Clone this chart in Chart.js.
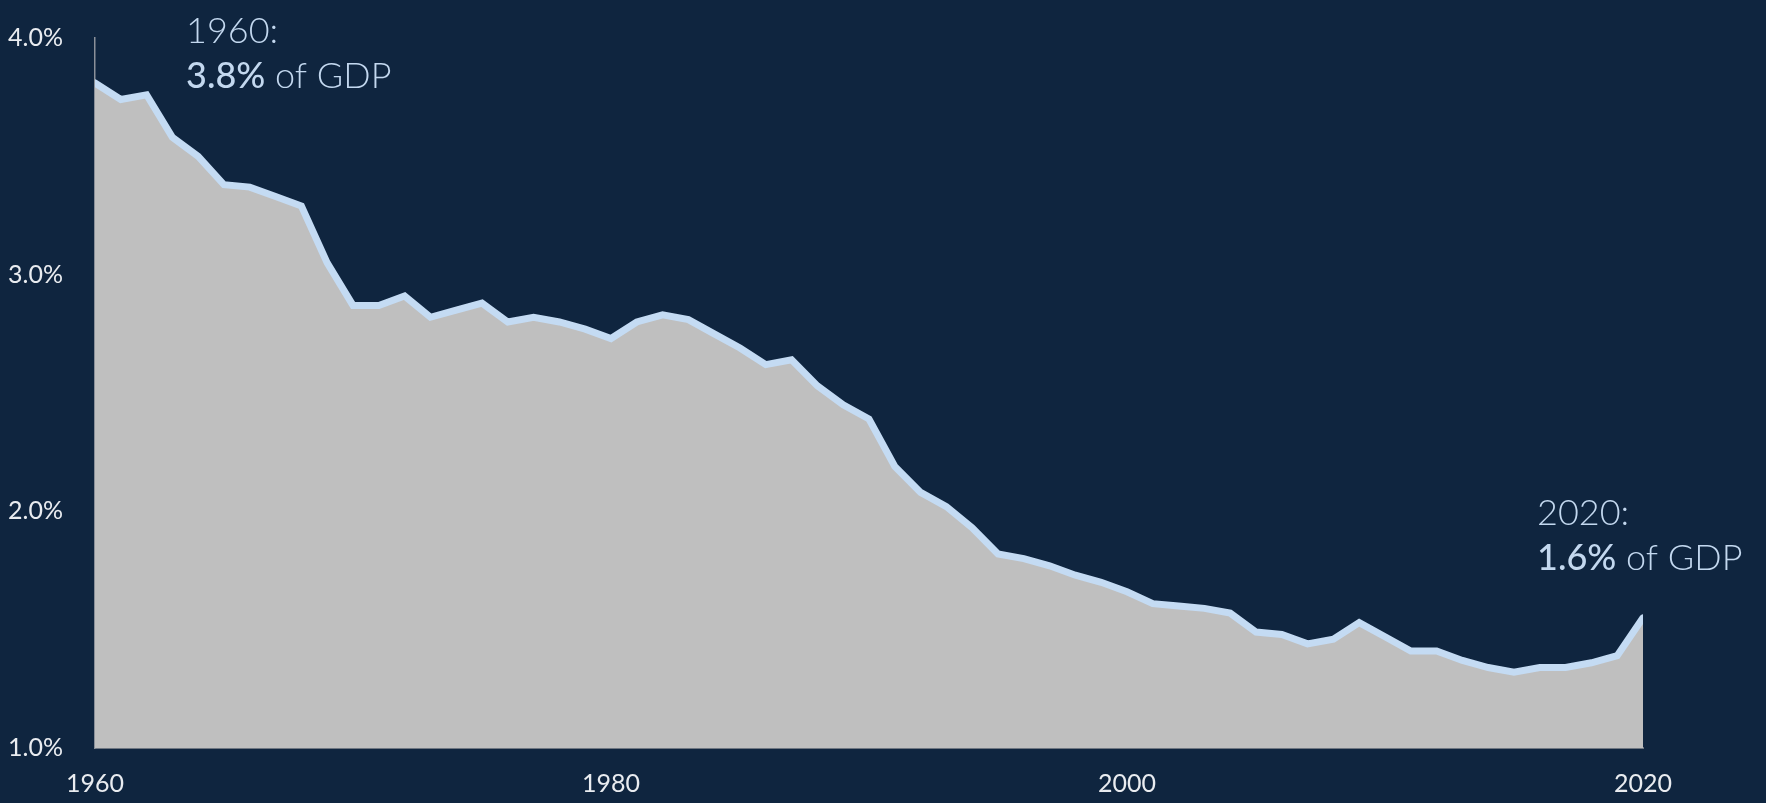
<!DOCTYPE html>
<html>
<head>
<meta charset="utf-8">
<script src="https://cdn.jsdelivr.net/npm/chart.js@4"></script>
<style>
  html, body { margin: 0; padding: 0; background: #0f253f; }
  canvas { display: block; }
</style>
</head>
<body>
<canvas id="gdp_chart" width="1766" height="803"></canvas>
<script>
const years = [
  1960, 1961, 1962, 1963, 1964, 1965, 1966, 1967, 1968, 1969,
  1970, 1971, 1972, 1973, 1974, 1975, 1976, 1977, 1978, 1979,
  1980, 1981, 1982, 1983, 1984, 1985, 1986, 1987, 1988, 1989,
  1990, 1991, 1992, 1993, 1994, 1995, 1996, 1997, 1998, 1999,
  2000, 2001, 2002, 2003, 2004, 2005, 2006, 2007, 2008, 2009,
  2010, 2011, 2012, 2013, 2014, 2015, 2016, 2017, 2018, 2019,
  2020
];
const share_of_gdp = [
  3.81, 3.74, 3.76, 3.58, 3.50, 3.38, 3.37, 3.33, 3.29, 3.05,
  2.87, 2.87, 2.91, 2.82, 2.85, 2.88, 2.80, 2.82, 2.80, 2.77,
  2.73, 2.80, 2.83, 2.81, 2.75, 2.69, 2.62, 2.64, 2.53, 2.45,
  2.39, 2.19, 2.08, 2.02, 1.93, 1.82, 1.80, 1.77, 1.73, 1.70,
  1.66, 1.61, 1.60, 1.59, 1.57, 1.49, 1.48, 1.44, 1.46, 1.53,
  1.47, 1.41, 1.41, 1.37, 1.34, 1.32, 1.34, 1.34, 1.36, 1.39,
  1.55
];
const y_ticks = [1, 2, 3, 4];
const x_ticks = [1960, 1980, 2000, 2020];

const gdp_ctx = document.getElementById("gdp_chart");

const points = [];
years.forEach((y, i) => {
  points.push({ x: y, y: share_of_gdp[i] });
});

// the two call-out texts, anchored to the first and last data point
const callouts = {
  id: 'callouts',
  afterDraw(chart) {
    const ctx = chart.ctx;
    const xs = chart.scales.x;
    const first = points[0];
    const last = points[points.length - 1];
    const items = [
      { head: first.x + ':', val: first.y.toFixed(1) + '%', left: xs.getPixelForValue(first.x) + 91, base: 43 },
      { head: last.x + ':', val: '1.6%', left: xs.getPixelForValue(last.x) - 106, base: 525 }
    ];
    ctx.save();
    ctx.fillStyle = '#c3d8ef';
    ctx.textBaseline = 'alphabetic';
    ctx.textAlign = 'left';
    items.forEach(it => {
      ctx.font = '300 36px Lato';
      ctx.fillText(it.head, it.left, it.base);
      ctx.font = '500 36px Lato';
      ctx.fillText(it.val, it.left, it.base + 45);
      const w = ctx.measureText(it.val).width;
      ctx.font = '300 36px Lato';
      ctx.fillText(' of GDP', it.left + w, it.base + 45);
    });
    ctx.restore();
  }
};

const gdp_config = {
  type: 'line',
  data: {
    datasets: [{
      data: points,
      borderColor: '#c4dbf3',
      borderWidth: 7,
      borderCapStyle: 'round',
      backgroundColor: '#bfbfbf',
      fill: 'start',
      pointRadius: 0,
      tension: 0
    }]
  },
  options: {
    responsive: false,
    animation: false,
    layout: {
      padding: { top: 38, right: 123, left: 8, bottom: 0 }
    },
    plugins: {
      legend: { display: false },
      tooltip: { enabled: false }
    },
    scales: {
      x: {
        type: 'linear',
        min: 1960,
        max: 2020,
        z: 1,
        afterFit: s => { s.height = 55; },
        afterBuildTicks: s => { s.ticks = x_ticks.map(v => ({ value: v })); },
        grid: { display: false, drawTicks: false },
        border: { display: true, color: '#6e7681', width: 2 },
        ticks: {
          padding: 21,
          color: '#e9ecf0',
          font: { family: 'Lato', size: 25, weight: '400' },
          maxRotation: 0,
          callback: v => String(v)
        }
      },
      y: {
        min: 1,
        max: 4,
        z: 1,
        afterFit: s => { s.width = 87; },
        afterBuildTicks: s => { s.ticks = y_ticks.map(v => ({ value: v })); },
        grid: { display: false, drawTicks: false },
        border: { display: true, color: '#8a9099', width: 1.5 },
        ticks: {
          padding: 0,
          crossAlign: 'far',
          color: '#e9ecf0',
          font: { family: 'Lato', size: 25, weight: '400' },
          callback: v => v.toFixed(1) + '%'
        }
      }
    }
  },
  plugins: [callouts]
};
const gdp_chart = new Chart(gdp_ctx, gdp_config);
</script>
</body>
</html>
